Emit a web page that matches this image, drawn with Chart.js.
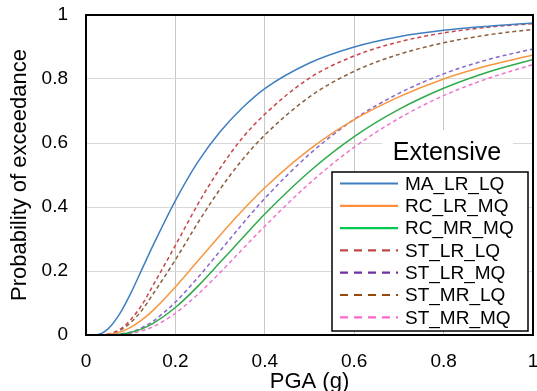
<!DOCTYPE html>
<html>
<head>
<meta charset="utf-8">
<script src="https://cdn.jsdelivr.net/npm/chart.js@4.4.1/dist/chart.umd.min.js"></script>
<style>
  html, body { margin: 0; padding: 0; background: #fff; }
  #wrap { width: 537px; height: 391px; }
</style>
</head>
<body>
<div id="wrap"><canvas id="c" width="537" height="391"></canvas></div>
<script>
// ---- data ----
const pga = [0, 0.025, 0.05, 0.075, 0.1, 0.125, 0.15, 0.2, 0.25, 0.3, 0.35, 0.4, 0.5, 0.6, 0.7, 0.8, 0.9, 1.0];
const MA_LR_LQ = [0, 0.001, 0.02, 0.065, 0.13, 0.205, 0.28, 0.42, 0.54, 0.635, 0.71, 0.77, 0.85, 0.9, 0.932, 0.952, 0.965, 0.975];
const RC_LR_MQ = [0, 0, 0.002, 0.009, 0.024, 0.047, 0.077, 0.15, 0.231, 0.312, 0.389, 0.46, 0.58, 0.673, 0.744, 0.8, 0.842, 0.875];
const RC_MR_MQ = [0, 0, 0, 0.002, 0.008, 0.019, 0.036, 0.086, 0.152, 0.227, 0.303, 0.378, 0.511, 0.62, 0.705, 0.771, 0.822, 0.861];
const ST_LR_LQ = [0, 0, 0.003, 0.017, 0.048, 0.094, 0.155, 0.28, 0.408, 0.521, 0.616, 0.69, 0.803, 0.872, 0.916, 0.944, 0.962, 0.973];
const ST_LR_MQ = [0, 0, 0, 0.003, 0.009, 0.023, 0.043, 0.103, 0.179, 0.263, 0.347, 0.427, 0.565, 0.674, 0.755, 0.816, 0.861, 0.894];
const ST_MR_LQ = [0, 0, 0.003, 0.014, 0.039, 0.077, 0.128, 0.235, 0.35, 0.456, 0.548, 0.625, 0.744, 0.824, 0.877, 0.913, 0.938, 0.955];
const ST_MR_MQ = [0, 0, 0, 0.001, 0.005, 0.013, 0.026, 0.068, 0.127, 0.195, 0.268, 0.34, 0.474, 0.587, 0.677, 0.748, 0.802, 0.845];

const seriesNames = ['MA_LR_LQ', 'RC_LR_MQ', 'RC_MR_MQ', 'ST_LR_LQ', 'ST_LR_MQ', 'ST_MR_LQ', 'ST_MR_MQ'];
const seriesValues = [MA_LR_LQ, RC_LR_MQ, RC_MR_MQ, ST_LR_LQ, ST_LR_MQ, ST_MR_LQ, ST_MR_MQ];
const xTickValues = [0, 0.2, 0.4, 0.6, 0.8, 1];
const xTickLabels = ['0', '0.2', '0.4', '0.6', '0.8', '1'];
const yTickValues = [0, 0.2, 0.4, 0.6, 0.8, 1];
const yTickLabels = ['0', '0.2', '0.4', '0.6', '0.8', '1'];
const legendTitle = 'Extensive';
const xTitle = 'PGA (g)';
const yTitle = 'Probability of exceedance';

// ---- styles ----
const colors = ['#3f7fc0', '#f7963e', '#2eaa4a', '#c8474a', '#8866cc', '#8b5e3c', '#ee77cc'];
const legendColors = ['#3f7fc0', '#ff8f3a', '#00c850', '#c04848', '#7030a0', '#984807', '#ff66cc'];
const dashed = [false, false, false, true, true, true, true];
const FONT = '"Liberation Sans", Arial, sans-serif';

const datasets = seriesNames.map((name, i) => ({
  label: name,
  data: pga.map((x, j) => ({ x: x, y: seriesValues[i][j] })),
  borderColor: colors[i],
  backgroundColor: colors[i],
  borderWidth: 1.5,
  borderDash: dashed[i] ? [4, 3] : [],
  pointRadius: 0,
  cubicInterpolationMode: 'monotone',
  fill: false
}));

const framePlugin = {
  id: 'frame',
  afterDatasetsDraw(chart) {
    const { ctx, chartArea: a } = chart;
    ctx.save();
    ctx.strokeStyle = '#000';
    ctx.lineWidth = 2;
    ctx.strokeRect(a.left, a.top, a.right - a.left, a.bottom - a.top);
    ctx.restore();
  }
};

const legendPlugin = {
  id: 'boxLegend',
  afterDraw(chart) {
    const { ctx, chartArea: a } = chart;
    const ds = chart.data.datasets;
    ctx.save();
    // title background + text
    ctx.fillStyle = '#fff';
    ctx.fillRect(a.right - 151, a.top + 115, 131, 43);
    ctx.fillStyle = '#000';
    ctx.font = '25px ' + FONT;
    ctx.textAlign = 'center';
    ctx.textBaseline = 'middle';
    ctx.fillText(legendTitle, a.right - 86, a.top + 138);
    // box
    const bx = a.left + 246, by = a.top + 157, bw = 196, bh = 159;
    ctx.fillStyle = '#fff';
    ctx.fillRect(bx, by, bw, bh);
    ctx.strokeStyle = '#000';
    ctx.lineWidth = 1.5;
    ctx.strokeRect(bx, by, bw, bh);
    ctx.font = '19px ' + FONT;
    ctx.textAlign = 'left';
    ds.forEach((d, i) => {
      const y = by + 11.5 + i * 22.3;
      ctx.strokeStyle = legendColors[i];
      ctx.lineWidth = 2.2;
      ctx.setLineDash(dashed[i] ? [8, 6] : []);
      ctx.beginPath();
      ctx.moveTo(bx + 8, y);
      ctx.lineTo(bx + 66, y);
      ctx.stroke();
      ctx.setLineDash([]);
      ctx.fillStyle = '#000';
      ctx.fillText(d.label, bx + 73, y + 1);
    });
    ctx.restore();
  }
};

new Chart(document.getElementById('c'), {
  type: 'line',
  data: { datasets: datasets },
  plugins: [framePlugin, legendPlugin],
  options: {
    responsive: false,
    animation: false,
    layout: { padding: { top: 15, right: 4, left: 0, bottom: 0 } },
    plugins: { legend: { display: false }, tooltip: { enabled: false } },
    scales: {
      x: {
        type: 'linear',
        min: 0, max: 1,
        afterBuildTicks(s) { s.ticks = xTickValues.map(v => ({ value: v })); },
        afterFit(s) { s.height = 56; s.paddingLeft = 0; s.paddingRight = 0; },
        ticks: {
          padding: 15,
          color: '#000',
          font: { family: FONT, size: 19 },
          maxRotation: 0,
          callback: (v) => xTickLabels[xTickValues.indexOf(v)]
        },
        grid: { color: '#c8c8c8', lineWidth: 1, drawTicks: false },
        border: { display: false },
        title: {
          display: true, text: xTitle, color: '#000',
          font: { family: FONT, size: 22, lineHeight: 1 },
          padding: { top: 0, bottom: -2 }
        }
      },
      y: {
        type: 'linear',
        min: 0, max: 1,
        afterBuildTicks(s) { s.ticks = yTickValues.map(v => ({ value: v })); },
        afterFit(s) { s.width = 86; s.paddingTop = 0; s.paddingBottom = 0; },
        ticks: {
          padding: 18,
          color: '#000',
          font: { family: FONT, size: 19 },
          callback: (v) => yTickLabels[yTickValues.indexOf(v)]
        },
        grid: { color: '#d9d9d9', lineWidth: 1, drawTicks: false },
        border: { display: false },
        title: {
          display: true, text: yTitle, color: '#000',
          font: { family: FONT, size: 22, lineHeight: 1.2 },
          padding: { top: 7, bottom: 0 }
        }
      }
    }
  }
});
</script>
</body>
</html>
